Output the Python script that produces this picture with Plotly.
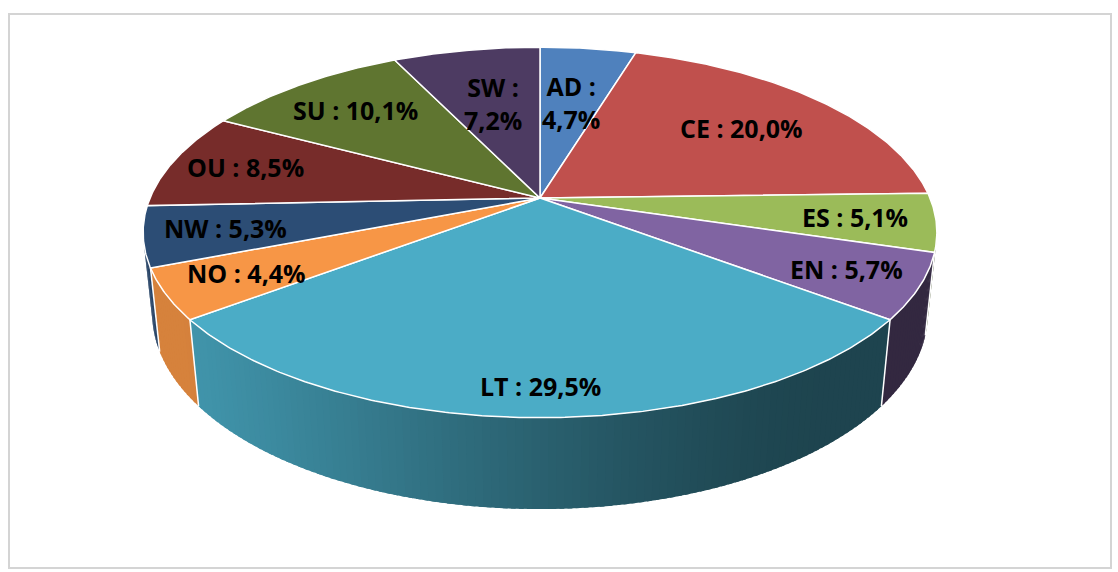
import numpy as np
import plotly.graph_objects as go

# ---------------- data ----------------
regions = ["AD", "CE", "ES", "EN", "LT", "NO", "NW", "OU", "SU", "SW"]
shares = [4.7, 20.0, 5.1, 5.7, 29.5, 4.4, 5.3, 8.5, 10.1, 7.2]
top_colors = ["#4f81bd", "#c0504d", "#9bbb59", "#8064a2", "#4bacc6",
              "#f79646", "#2c4d75", "#772c2a", "#5f7530", "#4d3b62"]
# label placement (fraction of radius) - style only
label_r = [0.6, 0.7, 0.8, 0.82, 0.88, 0.8, 0.8, 0.8, 0.75, 0.6]
two_line = {"AD", "SW"}

# ---------------- 3D pie geometry ----------------
W, H = 1118, 572
CX, CY = 540, 198
FOC = 1864.0
DIST = 4.78
TILT = np.radians(27.3)
THICK = 0.235
S, C = np.sin(TILT), np.cos(TILT)


def proj(X, Y, Z):
    v = Y * S + Z * C
    d = DIST + Y * C - Z * S
    return CX + FOC * X / d, CY - FOC * v / d


def rim(phi_deg, r=1.0, z=0.0):
    p = np.radians(phi_deg)
    return proj(r * np.sin(p), r * np.cos(p), z)


def hex2rgb(h):
    h = h.lstrip("#")
    return tuple(int(h[i:i + 2], 16) for i in (0, 2, 4))


def shade(hexcol, f):
    r, g, b = hex2rgb(hexcol)
    return "rgb(%d,%d,%d)" % (min(255, r * f), min(255, g * f), min(255, b * f))


def wall_factor(phi):
    t = np.clip((phi - 140.0) / (240.0 - 140.0), 0, 1)
    t = t * t * (3 - 2 * t)
    return 0.40 + 0.47 * t


total = float(sum(shares))
angles = np.concatenate([[0.0], np.cumsum(shares) / total * 360.0])

# visible wall range (front-facing cylinder part)
lim = np.degrees(np.arccos(-1.0 / (DIST * C)))
vis0, vis1 = lim, 360.0 - lim

fig = go.Figure()

# walls (thin shaded strips, each slightly overlapping the next)
for i, reg in enumerate(regions):
    a0, a1 = angles[i], angles[i + 1]
    lo, hi = max(a0, vis0), min(a1, vis1)
    if hi <= lo:
        continue
    n = max(1, int(np.ceil((hi - lo) / 1.0)))
    edges = np.linspace(lo, hi, n + 1)
    for k in range(n):
        p0 = edges[k]
        p1 = min(hi, edges[k + 1] + 0.6)
        x0t, y0t = rim(p0)
        x1t, y1t = rim(p1)
        x1b, y1b = rim(p1, z=-THICK)
        x0b, y0b = rim(p0, z=-THICK)
        col = shade(top_colors[i], wall_factor(0.5 * (edges[k] + edges[k + 1])))
        fig.add_trace(go.Scatter(
            x=[x0t, x1t, x1b, x0b, x0t], y=[y0t, y1t, y1b, y0b, y0t],
            mode="lines", fill="toself", fillcolor=col,
            line=dict(color=col, width=0), hoverinfo="skip", showlegend=False))

# white seams on walls at slice boundaries
for a in angles[1:-1]:
    if vis0 < a < vis1:
        xt, yt = rim(a)
        xb, yb = rim(a, z=-THICK)
        fig.add_trace(go.Scatter(x=[xt, xb], y=[yt, yb], mode="lines",
                                 line=dict(color="white", width=1.5),
                                 hoverinfo="skip", showlegend=False))

# top faces
for i, reg in enumerate(regions):
    a0, a1 = angles[i], angles[i + 1]
    ph = np.linspace(a0, a1, max(3, int((a1 - a0) / 0.5) + 2))
    xs, ys = rim(ph)
    xs = np.concatenate([[CX], xs, [CX]])
    ys = np.concatenate([[CY], ys, [CY]])
    fig.add_trace(go.Scatter(
        x=xs, y=ys, mode="lines", fill="toself", fillcolor=top_colors[i],
        line=dict(color="white", width=1.5), hoverinfo="skip", showlegend=False))

# labels
for i, reg in enumerate(regions):
    mid = 0.5 * (angles[i] + angles[i + 1])
    lx, ly = rim(mid, r=label_r[i])
    pct = ("%.1f%%" % shares[i]).replace(".", ",")
    txt = f"{reg} :<br>{pct}" if reg in two_line else f"{reg} : {pct}"
    fig.add_annotation(x=lx, y=ly, text=txt, showarrow=False,
                       font=dict(family="Open Sans", size=25, color="black", weight="bold"),
                       align="center")

# chart border
fig.add_shape(type="rect", x0=9, y0=14, x1=1111, y1=568, xref="x", yref="y",
              line=dict(color="#d4d4d4", width=2), layer="below")

fig.update_layout(
    width=W, height=H, margin=dict(l=0, r=0, t=0, b=0),
    paper_bgcolor="white", plot_bgcolor="white",
    xaxis=dict(range=[0, W], visible=False, fixedrange=True),
    yaxis=dict(range=[H, 0], visible=False, fixedrange=True),
    showlegend=False,
)

fig.write_html("out.html", config={"displayModeBar": False},
               post_script="document.body.style.margin='0';")
